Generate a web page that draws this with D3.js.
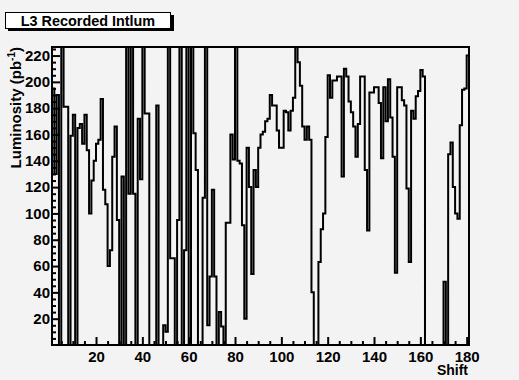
<!DOCTYPE html>
<html>
<head>
<meta charset="utf-8">
<script src="https://cdn.jsdelivr.net/npm/d3@7"></script>
<style>
  html, body { margin: 0; padding: 0; background: #f3f3f3; }
  svg { display: block; }
  text { font-family: "Liberation Sans", Arial, Helvetica, sans-serif; font-weight: bold; }
</style>
</head>
<body>
<svg id="chart" width="519" height="380"></svg>
<script>
// ---- data ----
const title = "L3 Recorded Intlum";
const xTitle = "Shift";
const yTitle = "Luminosity (pb";
const firstShift = 1;     // left edge of first bin
const lum = [
  195,130,190,0,240,181,181,0,159,175,
  0,165,168,153,175,148,100,125,140,153,
  156,187,118,107,60,72,143,166,95,0,
  128,0,240,115,240,115,0,172,126,240,
  176,176,0,0,0,182,0,0,15,10,
  240,66,66,0,95,240,0,72,240,0,
  240,161,133,0,0,112,240,15,52,118,
  52,0,25,14,0,93,93,160,141,240,
  140,138,91,20,150,120,54,133,120,150,
  160,162,170,172,190,182,182,163,150,150,
  178,177,163,178,188,240,215,197,166,156,
  166,156,40,0,0,63,88,100,158,205,
  188,201,201,204,204,128,210,204,185,177,
  166,143,168,204,204,133,87,192,192,196,
  196,184,142,196,170,202,173,143,55,196,
  196,186,182,119,63,178,172,189,193,209,
  204,0,0,0,0,0,0,0,0,48,
  0,145,154,120,100,96,167,194,195,220
];
const xTickLabels = [20,40,60,80,100,120,140,160,180];
const yTickLabels = [20,40,60,80,100,120,140,160,180,200,220];
const xMinorStep = 5;
const yMinorStep = 5;
const xMax = firstShift + lum.length;
const yMax = 226.5;

// ---- layout ----
const svg = d3.select("#chart");
const L = 52, R = 469, T = 47, B = 345;
const x = d3.scaleLinear().domain([firstShift, xMax]).range([L, R]);
const y = d3.scaleLinear().domain([0, yMax]).range([B, T]);

svg.append("rect").attr("width", 519).attr("height", 380).attr("fill", "#f3f3f3");

svg.append("defs").append("clipPath").attr("id", "clip")
  .append("rect").attr("x", L).attr("y", T).attr("width", R - L).attr("height", B - T);

// histogram outline
const pts = [[firstShift, 0]];
lum.forEach((v, i) => {
  pts.push([firstShift + i, v]);
  pts.push([firstShift + i + 1, v]);
});
pts.push([xMax, 0]);
const line = d3.line().x(d => x(d[0])).y(d => y(d[1]));
svg.append("path")
  .attr("d", line(pts))
  .attr("clip-path", "url(#clip)")
  .attr("fill", "none")
  .attr("stroke", "#000")
  .attr("stroke-width", 2)
  .attr("stroke-linejoin", "miter");

// axes: minor ticks
const xMinor = d3.range(5, xMax, xMinorStep).filter(v => v > firstShift && xTickLabels.indexOf(v) < 0);
const yMinor = d3.range(5, yMax, yMinorStep).filter(v => yTickLabels.indexOf(v) < 0);

const gxm = svg.append("g").attr("transform", `translate(0,${B})`)
  .call(d3.axisBottom(x).tickValues(xMinor).tickSize(-4).tickFormat(""));
const gym = svg.append("g").attr("transform", `translate(${L},0)`)
  .call(d3.axisLeft(y).tickValues(yMinor).tickSize(-4).tickFormat(""));

const gx = svg.append("g").attr("transform", `translate(0,${B})`)
  .call(d3.axisBottom(x).tickValues(xTickLabels).tickSize(-8).tickPadding(6).tickFormat(d3.format("d")));
const gy = svg.append("g").attr("transform", `translate(${L},0)`)
  .call(d3.axisLeft(y).tickValues(yTickLabels).tickSize(-8).tickPadding(2).tickFormat(d3.format("d")));

[gxm, gym, gx, gy].forEach(g => {
  g.select(".domain").remove();
  g.selectAll(".tick line").attr("stroke", "#000").attr("stroke-width", 2);
  g.selectAll("text").attr("fill", "#000").style("font-size", "15px")
    .style("font-family", "'Liberation Sans', Arial, sans-serif").style("font-weight", "bold");
});

// frame
svg.append("rect").attr("x", L).attr("y", T).attr("width", R - L).attr("height", B - T)
  .attr("fill", "none").attr("stroke", "#000").attr("stroke-width", 2);

// x title
svg.append("text").attr("x", R - 1).attr("y", 375).attr("text-anchor", "end")
  .style("font-size", "14px").text(xTitle);

// y title
const yt = svg.append("text")
  .attr("transform", `translate(21,${T}) rotate(-90)`)
  .attr("text-anchor", "end")
  .style("font-size", "15px");
yt.append("tspan").text(yTitle);
yt.append("tspan").attr("dy", -6).style("font-size", "10px").text("-1");
yt.append("tspan").attr("dy", 6).text(")");

// title box
svg.append("rect").attr("x", 8).attr("y", 15).attr("width", 166).attr("height", 16).attr("fill", "#000");
svg.append("rect").attr("x", 5.5).attr("y", 12.5).attr("width", 165).attr("height", 16)
  .attr("fill", "#fff").attr("stroke", "#000").attr("stroke-width", 1);
svg.append("text").attr("x", 88).attr("y", 25.5).attr("text-anchor", "middle")
  .style("font-size", "14.4px").text(title);
</script>
</body>
</html>
